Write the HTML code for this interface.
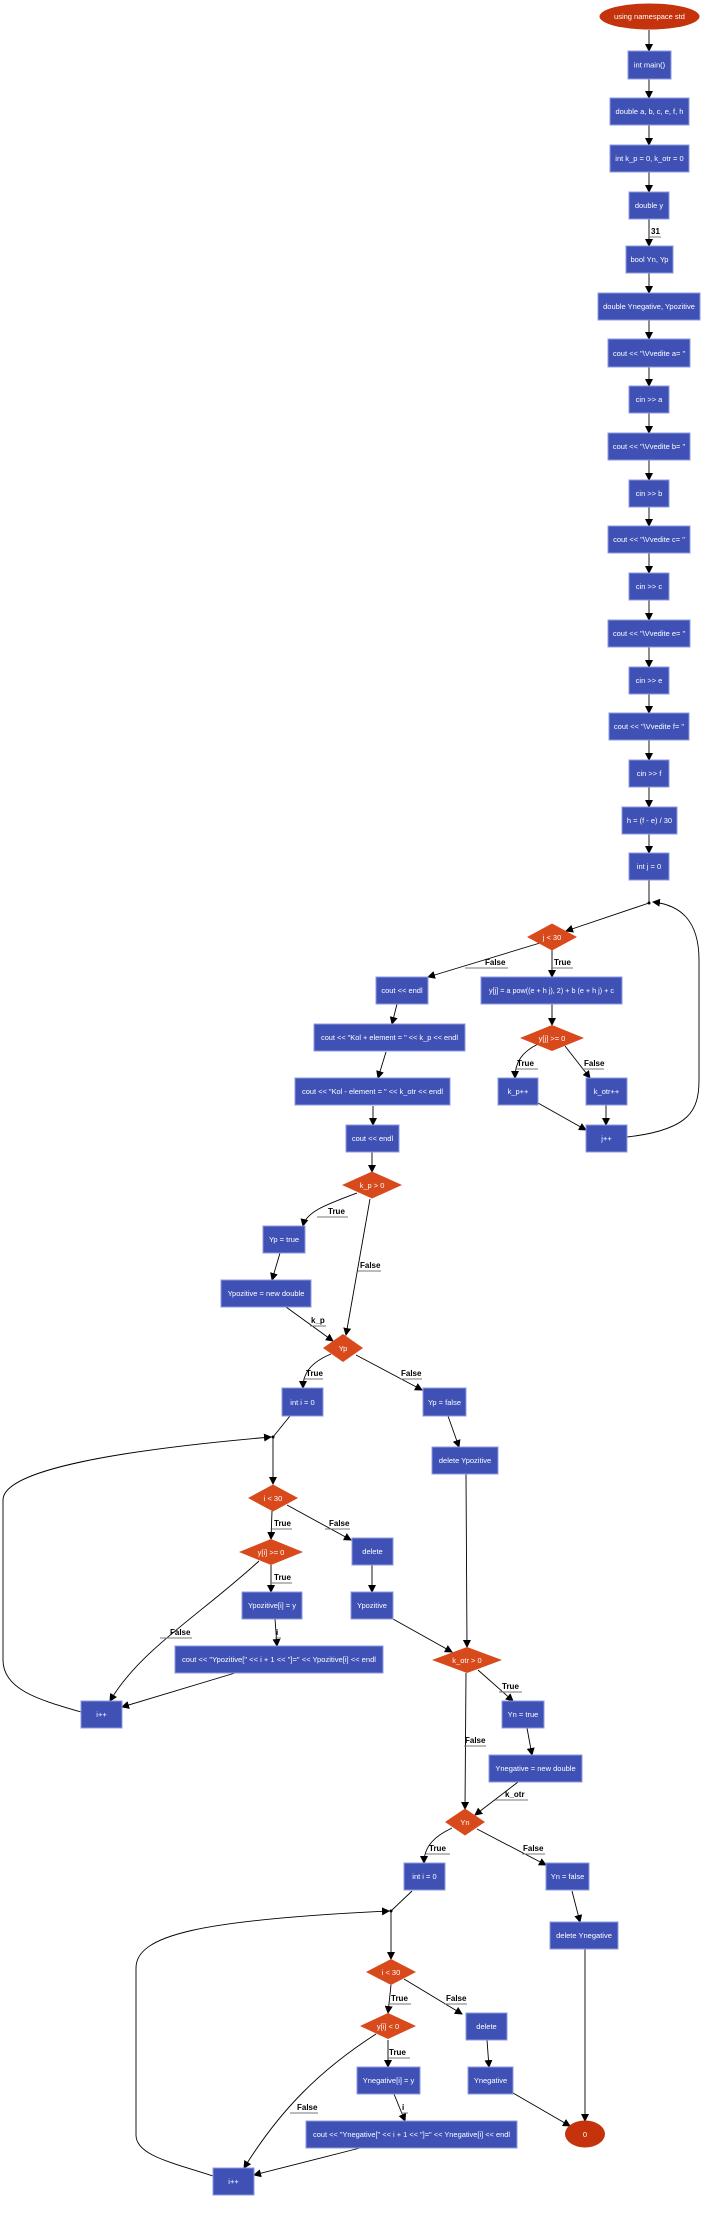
<!DOCTYPE html>
<html><head><meta charset="utf-8"><style>
html,body{margin:0;padding:0;background:#fff;}
svg{display:block;}
.b{fill:#3f51b5;stroke:#8c9ae0;stroke-width:1;}
.d{fill:#d84a1c;}
.t{fill:#fff;font-family:"Liberation Sans",sans-serif;font-size:7.5px;text-anchor:middle;}
.l{fill:#000;font-family:"Liberation Sans",sans-serif;font-size:8px;font-weight:bold;}
.e{fill:none;stroke:#000;stroke-width:0.9;}
.u{stroke:#777;stroke-width:1;}
</style></head><body>
<svg width="717" height="2214" viewBox="0 0 717 2214" xmlns="http://www.w3.org/2000/svg">
<defs><marker id="a" markerWidth="8" markerHeight="8" refX="7" refY="4" orient="auto" markerUnits="userSpaceOnUse"><path d="M0,0 L8,4 L0,8 z" fill="#000"/></marker></defs>

<!-- top column edges -->
<g class="e" marker-end="url(#a)">
<line x1="649" y1="30" x2="649" y2="51"/>
<line x1="649" y1="79" x2="649" y2="98"/>
<line x1="649" y1="125" x2="649" y2="145"/>
<line x1="649" y1="172" x2="649" y2="192"/>
<line x1="649" y1="219" x2="649" y2="246"/>
<line x1="649" y1="273" x2="649" y2="293"/>
<line x1="649" y1="320" x2="649" y2="339"/>
<line x1="649" y1="367" x2="649" y2="386"/>
<line x1="649" y1="413" x2="649" y2="433"/>
<line x1="649" y1="460" x2="649" y2="480"/>
<line x1="649" y1="507" x2="649" y2="526"/>
<line x1="649" y1="553" x2="649" y2="573"/>
<line x1="649" y1="600" x2="649" y2="620"/>
<line x1="649" y1="647" x2="649" y2="667"/>
<line x1="649" y1="694" x2="649" y2="713"/>
<line x1="649" y1="740" x2="649" y2="760"/>
<line x1="649" y1="787" x2="649" y2="807"/>
<line x1="649" y1="834" x2="649" y2="853"/>
<line x1="649" y1="903" x2="566" y2="931"/>
<line x1="540" y1="943" x2="428" y2="977"/>
<line x1="552" y1="950" x2="552" y2="977"/>
<line x1="552" y1="1004" x2="552" y2="1025"/>
<path d="M538,1044 C522,1052 515,1062 515,1078"/>
<line x1="565" y1="1046" x2="590" y2="1078"/>
<line x1="538" y1="1103" x2="586" y2="1130"/>
<line x1="606" y1="1105" x2="606" y2="1125"/>
<path d="M627,1137 C690,1130 699,1110 699,1080 L699,960 C699,920 680,905 653,902"/>
<line x1="397" y1="1004" x2="392" y2="1024"/>
<line x1="386" y1="1052" x2="378" y2="1078"/>
<line x1="373" y1="1106" x2="373" y2="1125"/>
<line x1="372" y1="1152" x2="372" y2="1172"/>
<path d="M357,1193 C325,1205 306,1212 303,1226"/>
<line x1="370" y1="1199" x2="346" y2="1335"/>
<line x1="280" y1="1253" x2="272" y2="1280"/>
<line x1="286" y1="1307" x2="333" y2="1341"/>
<path d="M331,1354 C312,1362 303,1372 303,1388"/>
<line x1="356" y1="1355" x2="422" y2="1390"/>
<line x1="448" y1="1416" x2="459" y2="1447"/>
<path d="M81,1712 C40,1700 3,1690 3,1660 L3,1500 C3,1470 120,1450 271,1437"/>
<line x1="273" y1="1437" x2="273" y2="1484"/>
<line x1="272" y1="1511" x2="271" y2="1539"/>
<line x1="287" y1="1505" x2="351" y2="1540"/>
<line x1="271" y1="1565" x2="271" y2="1592"/>
<path d="M259,1561 C200,1615 140,1650 110,1701"/>
<line x1="275" y1="1619" x2="277" y2="1646"/>
<line x1="372" y1="1565" x2="372" y2="1592"/>
<line x1="393" y1="1619" x2="452" y2="1652"/>
<line x1="466" y1="1474" x2="467" y2="1647"/>
<line x1="235" y1="1673" x2="122" y2="1707"/>
<line x1="478" y1="1670" x2="513" y2="1701"/>
<line x1="466" y1="1673" x2="465" y2="1809"/>
<line x1="527" y1="1728" x2="532" y2="1755"/>
<line x1="518" y1="1782" x2="475" y2="1815"/>
<path d="M452,1828 C435,1836 424,1846 424,1863"/>
<line x1="477" y1="1829" x2="546" y2="1865"/>
<line x1="572" y1="1891" x2="580" y2="1922"/>
<path d="M213,2176 C170,2162 136,2155 136,2135 L136,1968 C136,1935 200,1920 389,1911"/>
<line x1="391" y1="1911" x2="391" y2="1959"/>
<line x1="391" y1="1985" x2="388" y2="2013"/>
<line x1="404" y1="1979" x2="462" y2="2014"/>
<line x1="388" y1="2040" x2="388" y2="2067"/>
<path d="M376,2034 C320,2070 280,2110 244,2168"/>
<line x1="394" y1="2094" x2="405" y2="2121"/>
<line x1="487" y1="2040" x2="489" y2="2067"/>
<line x1="513" y1="2093" x2="570" y2="2126"/>
<line x1="585" y1="1949" x2="585" y2="2121"/>
<line x1="360" y1="2148" x2="254" y2="2175"/>
</g>
<g class="e">
<line x1="649" y1="880" x2="649" y2="903"/>
<line x1="290" y1="1416" x2="273" y2="1437"/>
<line x1="412" y1="1891" x2="391" y2="1911"/>
</g>
<circle cx="649" cy="903" r="1.5"/><circle cx="273" cy="1437" r="1.5"/><circle cx="391" cy="1911" r="1.5"/>

<!-- nodes -->
<ellipse cx="649.5" cy="16.5" rx="50" ry="13" fill="#c4330c"/>
<text class="t" x="649.5" y="19">using namespace std</text>
<g class="b">
<rect x="628" y="51" width="43" height="28"/>
<rect x="610" y="98" width="79" height="27"/>
<rect x="610" y="145" width="79" height="27"/>
<rect x="629" y="192" width="40" height="27"/>
<rect x="626" y="246" width="47" height="27"/>
<rect x="598" y="293" width="102" height="27"/>
<rect x="608" y="339" width="82" height="28"/>
<rect x="629" y="386" width="40" height="27"/>
<rect x="608" y="433" width="82" height="27"/>
<rect x="629" y="480" width="40" height="27"/>
<rect x="608" y="526" width="82" height="27"/>
<rect x="629" y="573" width="40" height="27"/>
<rect x="608" y="620" width="82" height="27"/>
<rect x="629" y="667" width="40" height="27"/>
<rect x="609" y="713" width="80" height="27"/>
<rect x="629" y="760" width="40" height="27"/>
<rect x="622" y="807" width="55" height="27"/>
<rect x="629" y="853" width="40" height="27"/>
<rect x="376" y="977" width="52" height="27"/>
<rect x="481" y="977" width="141" height="27"/>
<rect x="498" y="1078" width="40" height="27"/>
<rect x="586" y="1078" width="41" height="27"/>
<rect x="314" y="1024" width="151" height="27"/>
<rect x="295" y="1078" width="155" height="27"/>
<rect x="346" y="1125" width="53" height="27"/>
<rect x="586" y="1125" width="41" height="27"/>
<rect x="263" y="1226" width="42" height="27"/>
<rect x="221" y="1280" width="90" height="27"/>
<rect x="282" y="1388" width="41" height="28"/>
<rect x="423" y="1388" width="43" height="28"/>
<rect x="432" y="1447" width="66" height="27"/>
<rect x="352" y="1538" width="41" height="27"/>
<rect x="242" y="1592" width="60" height="27"/>
<rect x="351" y="1592" width="42" height="27"/>
<rect x="175" y="1646" width="208" height="27"/>
<rect x="81" y="1701" width="41" height="27"/>
<rect x="502" y="1701" width="42" height="27"/>
<rect x="489" y="1755" width="93" height="27"/>
<rect x="404" y="1863" width="41" height="27"/>
<rect x="546" y="1863" width="43" height="27"/>
<rect x="550" y="1922" width="68" height="27"/>
<rect x="466" y="2013" width="41" height="27"/>
<rect x="357" y="2067" width="63" height="27"/>
<rect x="468" y="2067" width="45" height="27"/>
<rect x="306" y="2121" width="211" height="27"/>
<rect x="213" y="2168" width="41" height="27"/>
</g>
<ellipse cx="585" cy="2134" rx="20" ry="13.5" fill="#c4330c"/>
<text class="t" x="585" y="2137">0</text>

<g class="d">
<polygon points="527,937 552,923.5 577,937 552,950.5"/>
<polygon points="520,1038 552,1025 584,1038 552,1051"/>
<polygon points="342,1185 372,1171.5 402,1185 372,1198.5"/>
<polygon points="323,1348 343,1334 363,1348 343,1362"/>
<polygon points="248,1498 273,1484.5 298,1498 273,1511.5"/>
<polygon points="239,1552 271,1539 303,1552 271,1565"/>
<polygon points="432,1660 467,1647 502,1660 467,1673"/>
<polygon points="445,1822 465,1808.5 485,1822 465,1835.5"/>
<polygon points="366,1972 391,1959 416,1972 391,1985"/>
<polygon points="360,2026 388,2013 416,2026 388,2039"/>
</g>

<g class="t">
<text x="649.5" y="67.5">int main()</text>
<text x="649.5" y="114">double a, b, c, e, f, h</text>
<text x="649.5" y="161">int k_p = 0, k_otr = 0</text>
<text x="649" y="208">double y</text>
<text x="649.5" y="262">bool Yn, Yp</text>
<text x="649" y="309">double Ynegative, Ypozitive</text>
<text x="649" y="356">cout &lt;&lt; "\Vvedite a= "</text>
<text x="649" y="402">cin &gt;&gt; a</text>
<text x="649" y="449">cout &lt;&lt; "\Vvedite b= "</text>
<text x="649" y="496">cin &gt;&gt; b</text>
<text x="649" y="542">cout &lt;&lt; "\Vvedite c= "</text>
<text x="649" y="589">cin &gt;&gt; c</text>
<text x="649" y="636">cout &lt;&lt; "\Vvedite e= "</text>
<text x="649" y="683">cin &gt;&gt; e</text>
<text x="649" y="729">cout &lt;&lt; "\Vvedite f= "</text>
<text x="649" y="776">cin &gt;&gt; f</text>
<text x="649.5" y="823">h = (f - e) / 30</text>
<text x="649" y="869">int j = 0</text>
<text x="552" y="940">j &lt; 30</text>
<text x="402" y="993">cout &lt;&lt; endl</text>
<text x="551.5" y="993" textLength="125" lengthAdjust="spacingAndGlyphs">y[j] = a pow((e + h  j), 2) + b  (e + h  j) + c</text>
<text x="552" y="1041">y[j] &gt;= 0</text>
<text x="518" y="1094">k_p++</text>
<text x="606.5" y="1094">k_otr++</text>
<text x="389.5" y="1040" textLength="137" lengthAdjust="spacingAndGlyphs">cout &lt;&lt; "Kol + element = " &lt;&lt; k_p &lt;&lt; endl</text>
<text x="372.5" y="1094" textLength="141" lengthAdjust="spacingAndGlyphs">cout &lt;&lt; "Kol - element = " &lt;&lt; k_otr &lt;&lt; endl</text>
<text x="372.5" y="1141">cout &lt;&lt; endl</text>
<text x="606.5" y="1141">j++</text>
<text x="372" y="1188">k_p &gt; 0</text>
<text x="284" y="1242">Yp = true</text>
<text x="266" y="1296">Ypozitive = new double</text>
<text x="343" y="1351">Yp</text>
<text x="302.5" y="1405">int i = 0</text>
<text x="444.5" y="1405">Yp = false</text>
<text x="465" y="1463">delete Ypozitive</text>
<text x="273" y="1501">i &lt; 30</text>
<text x="271" y="1555">y[i] &gt;= 0</text>
<text x="372.5" y="1554">delete</text>
<text x="272" y="1608">Ypozitive[i] = y</text>
<text x="372" y="1608">Ypozitive</text>
<text x="279" y="1662" textLength="194" lengthAdjust="spacingAndGlyphs">cout &lt;&lt; "Ypozitive[" &lt;&lt; i + 1 &lt;&lt; "]=" &lt;&lt; Ypozitive[i] &lt;&lt; endl</text>
<text x="467" y="1663">k_otr &gt; 0</text>
<text x="101.5" y="1717">i++</text>
<text x="523" y="1717">Yn = true</text>
<text x="535.5" y="1771">Ynegative = new double</text>
<text x="465" y="1825">Yn</text>
<text x="424.5" y="1879">int i = 0</text>
<text x="567.5" y="1879">Yn = false</text>
<text x="584" y="1938">delete Ynegative</text>
<text x="391" y="1975">i &lt; 30</text>
<text x="388" y="2029">y[i] &lt; 0</text>
<text x="486.5" y="2029">delete</text>
<text x="388.5" y="2083">Ynegative[i] = y</text>
<text x="490.5" y="2083">Ynegative</text>
<text x="411.5" y="2137" textLength="197" lengthAdjust="spacingAndGlyphs">cout &lt;&lt; "Ynegative[" &lt;&lt; i + 1 &lt;&lt; "]=" &lt;&lt; Ynegative[i] &lt;&lt; endl</text>
<text x="233.5" y="2184">i++</text>
</g>

<!-- edge labels -->
<g class="l">
<text x="651" y="234">31</text>
<text x="485" y="965">False</text>
<text x="554" y="965">True</text>
<text x="517" y="1066">True</text>
<text x="584" y="1066">False</text>
<text x="328" y="1214">True</text>
<text x="360" y="1268">False</text>
<text x="311" y="1323">k_p</text>
<text x="306" y="1376">True</text>
<text x="401" y="1376">False</text>
<text x="274" y="1526">True</text>
<text x="329" y="1526">False</text>
<text x="274" y="1580">True</text>
<text x="170" y="1635">False</text>
<text x="276" y="1635">i</text>
<text x="502" y="1689">True</text>
<text x="465" y="1743">False</text>
<text x="505" y="1797">k_otr</text>
<text x="429" y="1851">True</text>
<text x="523" y="1851">False</text>
<text x="391" y="2001">True</text>
<text x="446" y="2001">False</text>
<text x="389" y="2055">True</text>
<text x="297" y="2110">False</text>
<text x="402" y="2110">i</text>
</g>
<g class="u">
<line x1="649" y1="237" x2="661" y2="237"/>
<line x1="465" y1="968" x2="508" y2="968"/>
<line x1="552" y1="968" x2="573" y2="968"/>
<line x1="515" y1="1069" x2="538" y2="1069"/>
<line x1="582" y1="1069" x2="604" y2="1069"/>
<line x1="317" y1="1217" x2="348" y2="1217"/>
<line x1="358" y1="1271" x2="381" y2="1271"/>
<line x1="310" y1="1326" x2="326" y2="1326"/>
<line x1="303" y1="1379" x2="323" y2="1379"/>
<line x1="400" y1="1379" x2="422" y2="1379"/>
<line x1="272" y1="1529" x2="292" y2="1529"/>
<line x1="325" y1="1529" x2="350" y2="1529"/>
<line x1="271" y1="1583" x2="292" y2="1583"/>
<line x1="160" y1="1638" x2="192" y2="1638"/>
<line x1="275" y1="1638" x2="281" y2="1638"/>
<line x1="499" y1="1692" x2="522" y2="1692"/>
<line x1="464" y1="1746" x2="486" y2="1746"/>
<line x1="495" y1="1800" x2="528" y2="1800"/>
<line x1="426" y1="1854" x2="450" y2="1854"/>
<line x1="522" y1="1854" x2="545" y2="1854"/>
<line x1="389" y1="2004" x2="411" y2="2004"/>
<line x1="444" y1="2004" x2="467" y2="2004"/>
<line x1="388" y1="2058" x2="410" y2="2058"/>
<line x1="290" y1="2113" x2="318" y2="2113"/>
<line x1="401" y1="2113" x2="408" y2="2113"/>
</g>
</svg>
</body></html>
